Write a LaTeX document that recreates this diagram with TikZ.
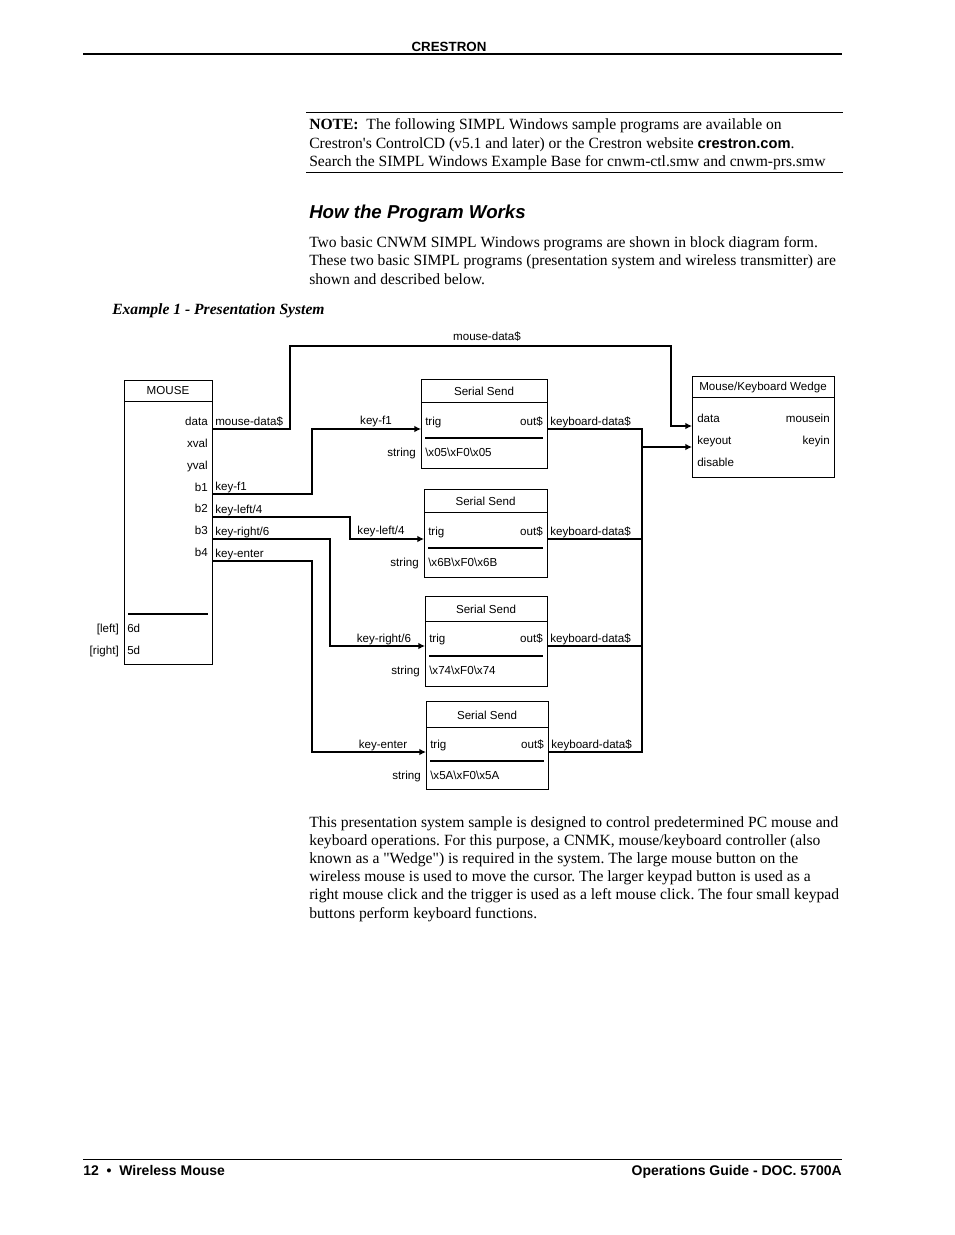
\documentclass[tikz,border=0pt]{standalone}
\usepackage{fontspec}
\setmainfont{Liberation Serif}
\setsansfont{Liberation Sans}
\usetikzlibrary{arrows.meta}

\newcommand{\bsl}{\textbackslash}
\frenchspacing

\tikzset{
  blk/.style={line width=0.7pt},
  wire/.style={line width=1.6pt},
  wirein/.style={line width=1.6pt,-{Latex[length=5pt,width=5pt]}},
  lbl/.style={inner sep=0pt,font=\fontsize{8.7}{10}\sffamily},
  body/.style={inner sep=0pt,anchor=base west,font=\fontsize{11.7}{14}\rmfamily},
}

\begin{document}
\begin{tikzpicture}[x=0.75pt,y=0.75pt,yscale=-1,xscale=1]
\fill[white] (0,0) rectangle (954,1235);
\useasboundingbox (0,0) rectangle (954,1235);

% Page header
\draw (449,51) node [anchor=base][inner sep=0pt] [font=\fontsize{10}{12}\sffamily\bfseries] (hdr) {CRESTRON};
\draw [line width=1.5pt] (83,54) -- (842,54) ;

% Note
\draw [line width=0.75pt] (306,112) -- (843,112) ;
\draw (309,129) node [body] (note1) {\textbf{NOTE:}\ \ The following SIMPL Windows sample programs are available on};
\draw (309,148) node [body] (note2) {Crestron\textquotesingle s ControlCD (v5.1 and later) or the Crestron website {\fontsize{11}{14}\sffamily\bfseries crestron.com}.};
\draw (309,166) node [body] (note3) {Search the SIMPL Windows Example Base for cnwm-ctl.smw and cnwm-prs.smw};
\draw [line width=0.75pt] (306,172) -- (843,172) ;

% Heading and intro
\draw (309,218) node [anchor=base west][inner sep=0pt] [font=\fontsize{14}{16}\sffamily\bfseries\itshape] (howto) {How the Program Works};
\draw (309,247) node [body] (intro1) {Two basic CNWM SIMPL Windows programs are shown in block diagram form.};
\draw (309,265) node [body] (intro2) {These two basic SIMPL programs (presentation system and wireless transmitter) are};
\draw (309,284) node [body] (intro3) {shown and described below.};
\draw (112,314) node [body] [font=\fontsize{11.7}{14}\rmfamily\bfseries\itshape] (ex1) {Example 1 - Presentation System};

%Shape: MOUSE symbol
\draw [blk] (124,380) rectangle (212,664) ;
\draw [blk] (124,401) -- (212,401) ;
\draw (168,391) node [lbl] (mousettl) {MOUSE};
\draw (208,425) node [lbl,anchor=base east] (mdata) {data};
\draw (208,447) node [lbl,anchor=base east] (mxval) {xval};
\draw (208,469) node [lbl,anchor=base east] (myval) {yval};
\draw (208,491) node [lbl,anchor=base east] (mb1) {b1};
\draw (208,512) node [lbl,anchor=base east] (mb2) {b2};
\draw (208,534) node [lbl,anchor=base east] (mb3) {b3};
\draw (208,556) node [lbl,anchor=base east] (mb4) {b4};
\draw [wire] (128,614) -- (208,614) ;
\draw (127,632) node [lbl,anchor=base west] (m6d) {6d};
\draw (127,654) node [lbl,anchor=base west] (m5d) {5d};
\draw (119,632) node [lbl,anchor=base east] (mleft) {[left]};
\draw (119,654) node [lbl,anchor=base east] (mright) {[right]};
\coordinate (m-data) at (212,429);
\coordinate (m-b1) at (212,494);
\coordinate (m-b2) at (212,517);
\coordinate (m-b3) at (212,539);
\coordinate (m-b4) at (212,561);
% signal names on MOUSE outputs
\draw (215,425) node [lbl,anchor=base west] (s-mdata) {mouse-data\$};
\draw (215,490) node [lbl,anchor=base west] (s-f1) {key-f1};
\draw (215,513) node [lbl,anchor=base west] (s-left) {key-left/4};
\draw (215,535) node [lbl,anchor=base west] (s-right) {key-right/6};
\draw (215,557) node [lbl,anchor=base west] (s-enter) {key-enter};

%Shape: Serial Send 1
\draw [blk] (421,379) rectangle (547,468) ;
\draw [blk] (421,402) -- (547,402) ;
\draw (484,391) node [lbl] (ss1ttl) {Serial Send};
\draw (425,425) node [lbl,anchor=base west] (ss1trig) {trig};
\draw (543,425) node [lbl,anchor=base east] (ss1outl) {out\$};
\draw [wire] (425,438) -- (543,438) ;
\draw (416,456) node [lbl,anchor=base east] (ss1str) {string};
\draw (425,456) node [lbl,anchor=base west] (ss1val) {\bsl x05\bsl xF0\bsl x05};
\draw (550,425) node [lbl,anchor=base west] (ss1kbd) {keyboard-data\$};
\coordinate (ss1-trig) at (421,429);
\coordinate (ss1-out) at (547,429);

%Shape: Serial Send 2
\draw [blk] (424,489) rectangle (547,577) ;
\draw [blk] (424,512) -- (547,512) ;
\draw (485.5,501) node [lbl] (ss2ttl) {Serial Send};
\draw (428,535) node [lbl,anchor=base west] (ss2trig) {trig};
\draw (543,535) node [lbl,anchor=base east] (ss2outl) {out\$};
\draw [wire] (428,548) -- (543,548) ;
\draw (419,566) node [lbl,anchor=base east] (ss2str) {string};
\draw (428,566) node [lbl,anchor=base west] (ss2val) {\bsl x6B\bsl xF0\bsl x6B};
\draw (550,535) node [lbl,anchor=base west] (ss2kbd) {keyboard-data\$};
\coordinate (ss2-trig) at (424,539);
\coordinate (ss2-out) at (547,539);

%Shape: Serial Send 3
\draw [blk] (425,596) rectangle (547,686) ;
\draw [blk] (425,621) -- (547,621) ;
\draw (486,609) node [lbl] (ss3ttl) {Serial Send};
\draw (429,642) node [lbl,anchor=base west] (ss3trig) {trig};
\draw (543,642) node [lbl,anchor=base east] (ss3outl) {out\$};
\draw [wire] (429,656) -- (543,656) ;
\draw (420,674) node [lbl,anchor=base east] (ss3str) {string};
\draw (429,674) node [lbl,anchor=base west] (ss3val) {\bsl x74\bsl xF0\bsl x74};
\draw (550,642) node [lbl,anchor=base west] (ss3kbd) {keyboard-data\$};
\coordinate (ss3-trig) at (425,646);
\coordinate (ss3-out) at (547,646);

%Shape: Serial Send 4
\draw [blk] (426,701) rectangle (548,789) ;
\draw [blk] (426,727) -- (548,727) ;
\draw (487,715) node [lbl] (ss4ttl) {Serial Send};
\draw (430,748) node [lbl,anchor=base west] (ss4trig) {trig};
\draw (544,748) node [lbl,anchor=base east] (ss4outl) {out\$};
\draw [wire] (430,761) -- (544,761) ;
\draw (421,779) node [lbl,anchor=base east] (ss4str) {string};
\draw (430,779) node [lbl,anchor=base west] (ss4val) {\bsl x5A\bsl xF0\bsl x5A};
\draw (551,748) node [lbl,anchor=base west] (ss4kbd) {keyboard-data\$};
\coordinate (ss4-trig) at (426,752);
\coordinate (ss4-out) at (548,752);

%Shape: Mouse/Keyboard Wedge
\draw [blk] (692,376) rectangle (834,477) ;
\draw [blk] (692,397) -- (834,397) ;
\draw (763,387) node [lbl] (wttl) {Mouse/Keyboard Wedge};
\draw (697,422) node [lbl,anchor=base west] (wdata) {data};
\draw (697,444) node [lbl,anchor=base west] (wkeyout) {keyout};
\draw (697,466) node [lbl,anchor=base west] (wdisable) {disable};
\draw (830,422) node [lbl,anchor=base east] (wmousein) {mousein};
\draw (830,444) node [lbl,anchor=base east] (wkeyin) {keyin};
\coordinate (w-data) at (692,426);
\coordinate (w-keyout) at (692,447);

% Wires
\draw [wirein] (m-data) -- (290,429) -- (290,346) -- (671,346) |- (w-data) ;
\draw (487,340) node [lbl,anchor=base] (c-mdata) {mouse-data\$};
\draw [wirein] (m-b1) -- (312,494) |- (ss1-trig) ;
\draw (376,424) node [lbl,anchor=base] (c-f1) {key-f1};
\draw [wirein] (m-b2) -- (350,517) |- (ss2-trig) ;
\draw (381,534) node [lbl,anchor=base] (c-left) {key-left/4};
\draw [wirein] (m-b3) -- (330,539) |- (ss3-trig) ;
\draw (384,642) node [lbl,anchor=base] (c-right) {key-right/6};
\draw [wirein] (m-b4) -- (312,561) |- (ss4-trig) ;
\draw (383,748) node [lbl,anchor=base] (c-enter) {key-enter};

% keyboard-data$ bus
\coordinate (bus-top) at (642,429);
\coordinate (bus-bot) at (642,752);
\draw [wire] (ss1-out) -- (bus-top) -- (bus-bot) -- (ss4-out) ;
\draw [wire] (ss2-out) -- (ss2-out -| bus-top) ;
\draw [wire] (ss3-out) -- (ss3-out -| bus-top) ;
\draw [wirein] (w-keyout -| bus-top) -- (w-keyout) ;

% Description
\draw (309,827) node [body] (desc1) {This presentation system sample is designed to control predetermined PC mouse and};
\draw (309,845) node [body] (desc2) {keyboard operations. For this purpose, a CNMK, mouse/keyboard controller (also};
\draw (309,863) node [body] (desc3) {known as a \textquotedbl Wedge\textquotedbl) is required in the system. The large mouse button on the};
\draw (309,881) node [body] (desc4) {wireless mouse is used to move the cursor. The larger keypad button is used as a};
\draw (309,899) node [body] (desc5) {right mouse click and the trigger is used as a left mouse click. The four small keypad};
\draw (309,918) node [body] (desc6) {buttons perform keyboard functions.};

% Page footer
\draw [line width=0.75pt] (83,1159) -- (842,1159) ;
\draw (83,1175) node [anchor=base west][inner sep=0pt] [font=\fontsize{10.5}{12}\sffamily\bfseries] (ftl) {12 \ \textbullet\ \ Wireless Mouse};
\draw (842,1175) node [anchor=base east][inner sep=0pt] [font=\fontsize{10.5}{12}\sffamily\bfseries] (ftr) {Operations Guide - DOC. 5700A};

\end{tikzpicture}
\end{document}
